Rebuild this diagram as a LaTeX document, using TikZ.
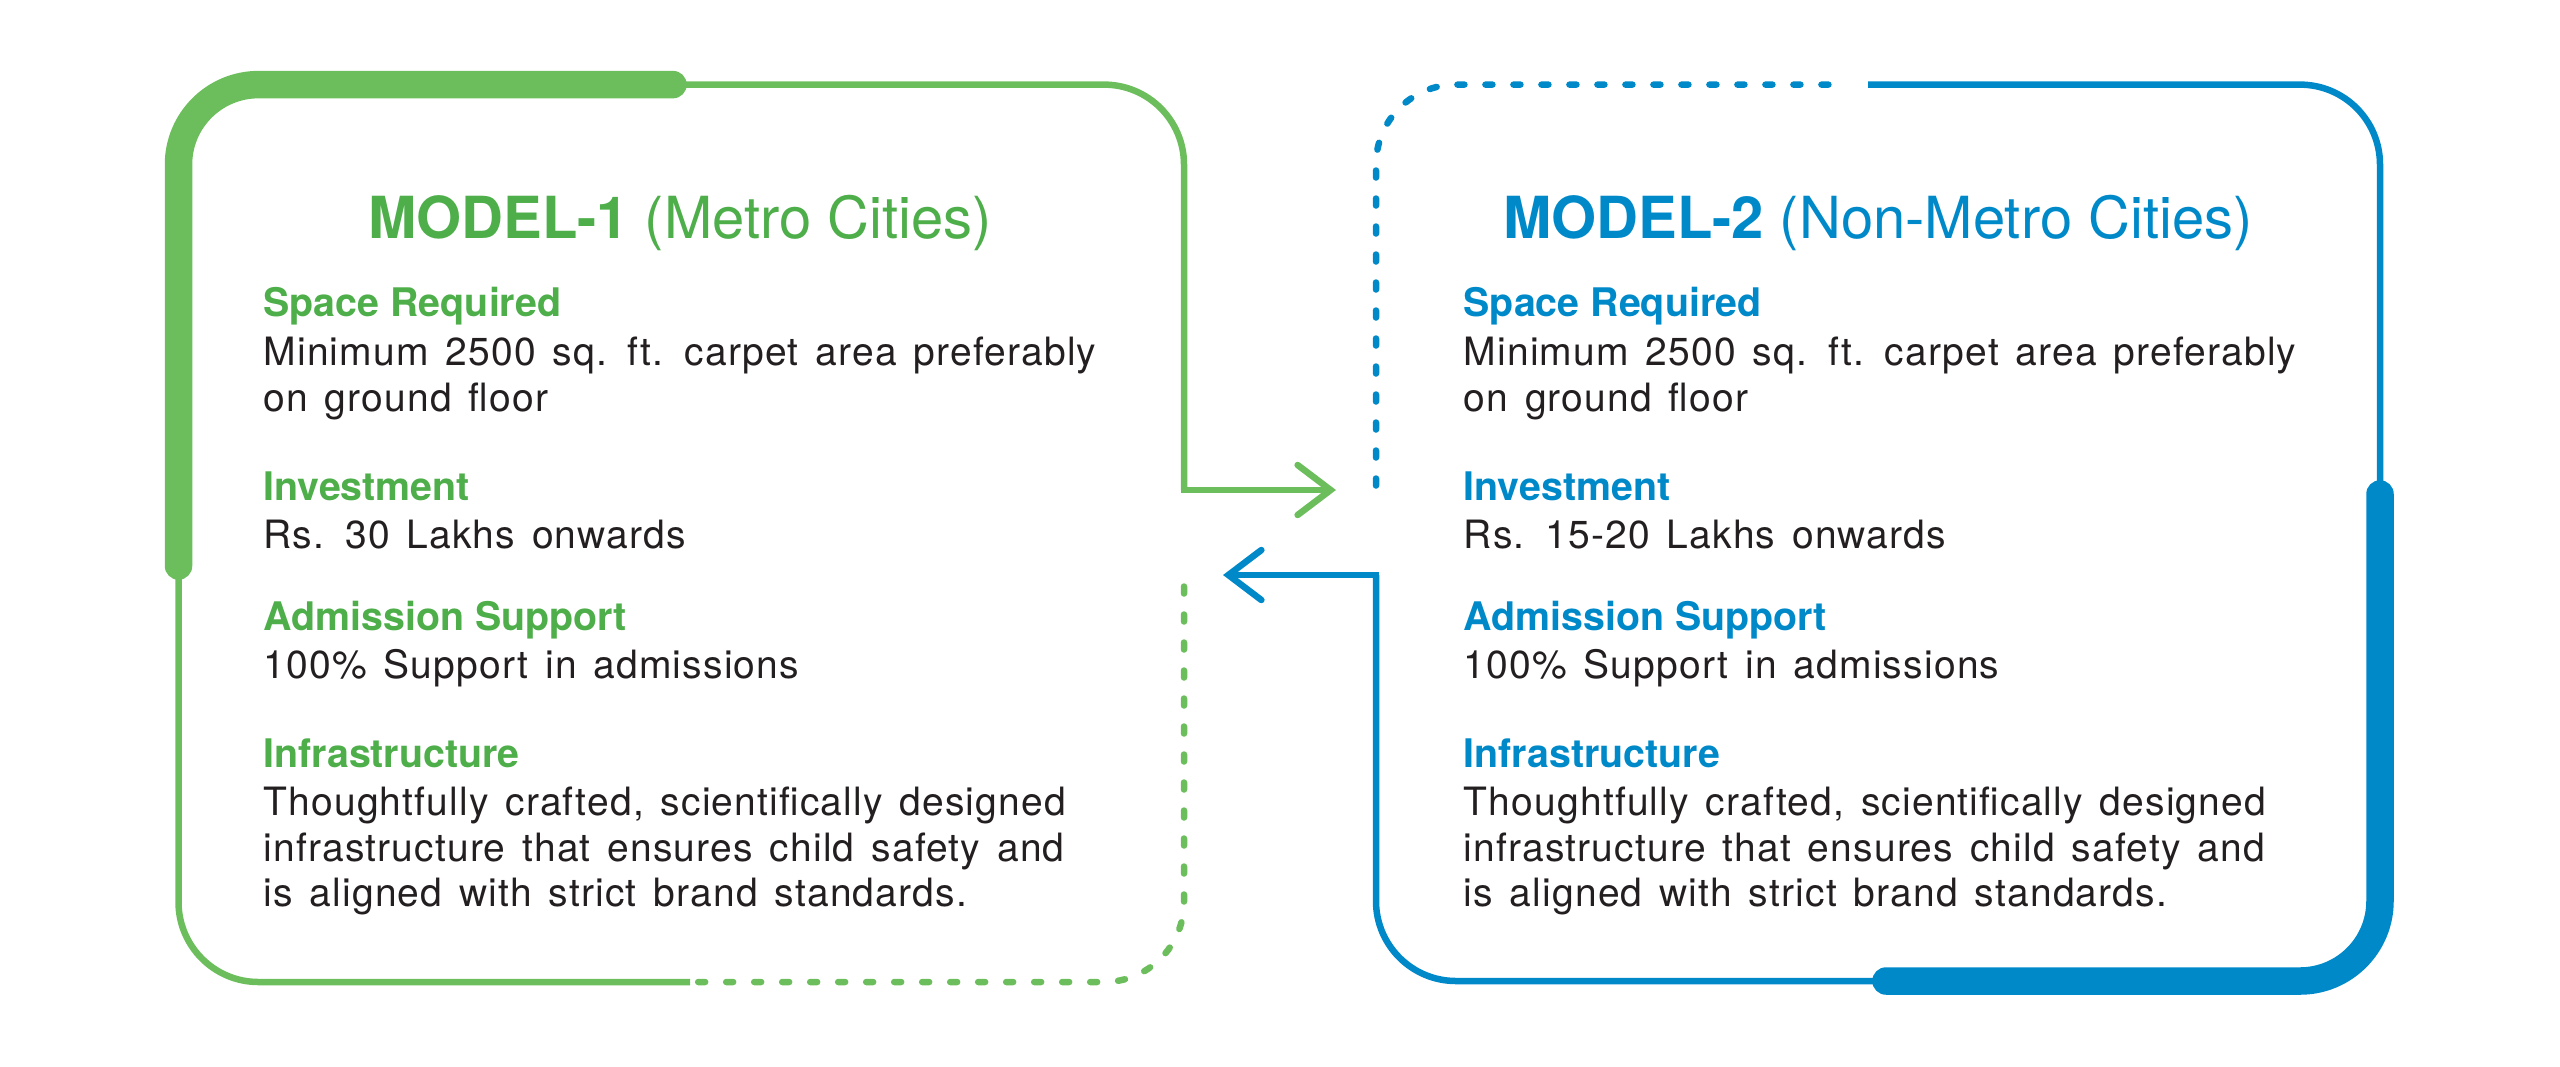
\documentclass[tikz,border=0pt]{standalone}
\usepackage{fontspec}
\setmainfont{TeX Gyre Heros}
\newfontfamily\bodyfont[LetterSpace=3,WordSpace=1.4]{TeX Gyre Heros}
\usetikzlibrary{arrows.meta}
\definecolor{mgreen}{RGB}{108,190,92}
\definecolor{mgreentxt}{RGB}{77,174,74}
\definecolor{mblue}{RGB}{0,137,201}
\definecolor{mtext}{RGB}{35,31,32}

\begin{document}
\begin{tikzpicture}[x=0.1mm,y=-0.1mm,
  boxline/.style={line width=0.65mm, rounded corners=8mm},
  boxbar/.style={line width=2.75mm, rounded corners=8mm, line cap=round},
  boxdots/.style={line width=0.65mm, rounded corners=8mm, line cap=round, dash pattern=on 0.7mm off 2.1mm},
  arrowline/.style={line width=0.65mm, ->},
  >={Straight Barb[length=3.3mm,width=5mm,line cap=round]},
  title/.style={inner sep=0pt, anchor=base, font=\fontsize{16.5}{19}\selectfont},
  head/.style={inner sep=0pt, anchor=base west, font=\fontsize{11.2}{13}\selectfont\bfseries},
  body/.style={inner sep=0pt, anchor=base west, text=mtext, font=\bodyfont\fontsize{11.1}{13.1}\selectfont}]
\useasboundingbox (0,0) rectangle (2560,1066);

% MODEL-1
\coordinate (m1-out) at (1184,490);
\coordinate (m1-tip) at (1336,490);
\draw[boxline, mgreen] (690,982) -| (178.5,84.6) -| (m1-out);
\draw[boxdots, mgreen] (1184,586.5) |- (697,982);
\draw[boxbar, mgreen] (673,84.6) -| (178.5,566);
\draw[arrowline, mgreen] ([xshift=-0.325mm]m1-out) -- (m1-tip);

% MODEL-2
\coordinate (m2-out) at (1376,575);
\coordinate (m2-tip) at (1223,575);
\draw[boxline, mblue] (m2-out) |- (2380,981) |- (1868,84.6);
\draw[boxdots, mblue] (1376,485.5) |- (1846.5,84.6);
\draw[boxbar, mblue] (1886,981) -| (2380,494);
\draw[arrowline, mblue] ([xshift=0.325mm]m2-out) -- (m2-tip);

% texts left
\node[title, text=mgreentxt] (m1-title) at (680,238.6) {\textbf{MODEL-1} (Metro Cities)};
\node[head, text=mgreentxt] (m1-space) at (262.8,316) {Space Required};
\node[body] (m1-space-a) at (262.8,365) {Minimum 2500 sq. ft. carpet area preferably};
\node[body] (m1-space-b) at (262.8,411) {on ground floor};
\node[head, text=mgreentxt] (m1-inv) at (262.8,500.7) {Investment};
\node[body] (m1-inv-a) at (262.8,548) {Rs. 30 Lakhs onwards};
\node[head, text=mgreentxt] (m1-adm) at (262.8,630) {Admission Support};
\node[body] (m1-adm-a) at (262.8,678) {100\% Support in admissions};
\node[head, text=mgreentxt] (m1-inf) at (262.8,767) {Infrastructure};
\node[body] (m1-inf-a) at (262.8,815) {Thoughtfully crafted, scientifically designed};
\node[body] (m1-inf-b) at (262.8,861) {infrastructure that ensures child safety and};
\node[body] (m1-inf-c) at (262.8,906) {is aligned with strict brand standards.};

% texts right
\node[title, text=mblue] (m2-title) at (1878,238.6) {\textbf{MODEL-2} (Non-Metro Cities)};
\node[head, text=mblue] (m2-space) at (1463,316) {Space Required};
\node[body] (m2-space-a) at (1463,365) {Minimum 2500 sq. ft. carpet area preferably};
\node[body] (m2-space-b) at (1463,411) {on ground floor};
\node[head, text=mblue] (m2-inv) at (1463,500.7) {Investment};
\node[body] (m2-inv-a) at (1463,548) {Rs. 15-20 Lakhs onwards};
\node[head, text=mblue] (m2-adm) at (1463,630) {Admission Support};
\node[body] (m2-adm-a) at (1463,678) {100\% Support in admissions};
\node[head, text=mblue] (m2-inf) at (1463,767) {Infrastructure};
\node[body] (m2-inf-a) at (1463,815) {Thoughtfully crafted, scientifically designed};
\node[body] (m2-inf-b) at (1463,861) {infrastructure that ensures child safety and};
\node[body] (m2-inf-c) at (1463,906) {is aligned with strict brand standards.};

\end{tikzpicture}
\end{document}
